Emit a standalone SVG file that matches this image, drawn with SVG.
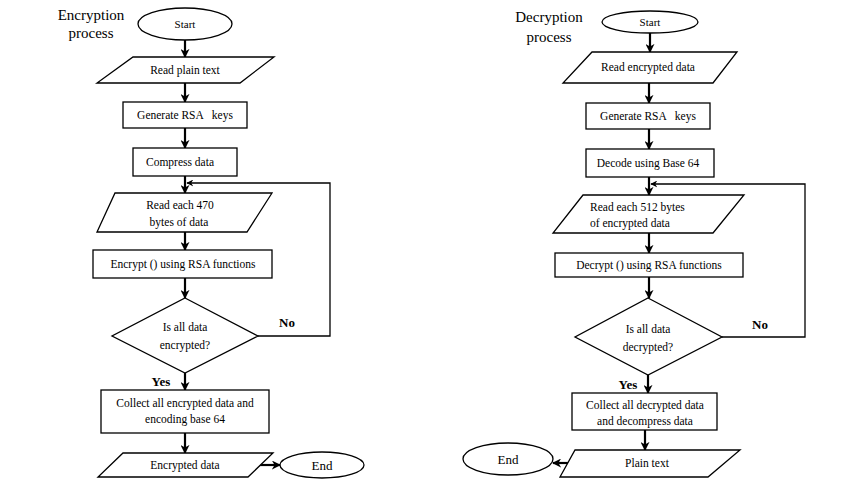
<svg xmlns="http://www.w3.org/2000/svg" width="850" height="485" viewBox="0 0 850 485">
<defs>
<style>
.s{fill:#fff;stroke:#000;stroke-width:1.3}
.t{font-family:"Liberation Serif","Times New Roman",serif;font-size:11.5px;fill:#000;text-anchor:middle;white-space:pre}
.ti{font-family:"Liberation Serif","Times New Roman",serif;font-size:15px;fill:#000;text-anchor:middle}
.b{font-family:"Liberation Serif","Times New Roman",serif;font-size:13px;font-weight:bold;fill:#000;text-anchor:middle}
.a{stroke:#000;stroke-width:2.2;fill:none;marker-end:url(#ah)}
.f{stroke:#000;stroke-width:1.3;fill:none;marker-end:url(#fh)}
</style>
<marker id="ah" viewBox="0 0 10 10" refX="9" refY="5" markerWidth="9" markerHeight="9" markerUnits="userSpaceOnUse" orient="auto">
<path d="M0,0 L10,5 L0,10 L3,5 z" fill="#000"/>
</marker>
<marker id="fh" viewBox="0 0 10 10" refX="9" refY="5" markerWidth="7" markerHeight="7" markerUnits="userSpaceOnUse" orient="auto">
<path d="M0,0 L10,5 L0,10 L3,5 z" fill="#000"/>
</marker>
</defs>
<rect width="850" height="485" fill="#fff"/>

<g id="titles">
<text class="ti" x="91" y="20">Encryption</text>
<text class="ti" x="91" y="38">process</text>
<text class="ti" x="549" y="22">Decryption</text>
<text class="ti" x="549" y="42">process</text>
</g>

<g id="connectors">
<line class="a" x1="185" y1="40" x2="185" y2="57"/>
<line class="a" x1="185" y1="83" x2="185" y2="102"/>
<line class="a" x1="185" y1="128" x2="185" y2="148"/>
<line class="a" x1="185" y1="176" x2="185" y2="193"/>
<line class="a" x1="185" y1="232" x2="185" y2="250"/>
<line class="a" x1="185" y1="278" x2="185" y2="298"/>
<line class="a" x1="185" y1="373" x2="185" y2="390"/>
<line class="a" x1="185" y1="433" x2="185" y2="453"/>
<line class="a" x1="258" y1="465" x2="280" y2="465"/>
<polyline class="f" points="258,336 330,336 330,183 187,183"/>

<line class="a" x1="650" y1="33" x2="650" y2="52"/>
<line class="a" x1="649" y1="83" x2="649" y2="103"/>
<line class="a" x1="649" y1="129" x2="649" y2="149"/>
<line class="a" x1="649" y1="177" x2="649" y2="195"/>
<line class="a" x1="649" y1="233" x2="649" y2="253"/>
<line class="a" x1="649" y1="277" x2="649" y2="298"/>
<line class="a" x1="648" y1="375" x2="648" y2="393"/>
<line class="a" x1="645" y1="430" x2="645" y2="450"/>
<line class="a" x1="573" y1="463" x2="553" y2="463"/>
<polyline class="f" points="722,337 805,337 805,184 651,184"/>
</g>

<g id="labels">
<text class="b" x="287" y="327">No</text>
<text class="b" x="161" y="386">Yes</text>
<text class="b" x="760" y="329">No</text>
<text class="b" x="628" y="389">Yes</text>
</g>

<g id="enc-start"><ellipse class="s" cx="185" cy="24" rx="47" ry="16"/><text class="t" x="185" y="28" style="font-size:11px">Start</text></g>
<g id="enc-read"><polygon class="s" points="133,57 274,57 240,83 97,83"/><text class="t" x="185" y="74">Read plain text</text></g>
<g id="enc-keys"><rect class="s" x="123" y="102" width="124" height="26"/><text class="t" x="185" y="119">Generate RSA   keys</text></g>
<g id="enc-compress"><rect class="s" x="133" y="148" width="104" height="28"/><text class="t" x="180" y="166">Compress data</text></g>
<g id="enc-read470"><polygon class="s" points="115,193 272,193 247,232 97,232"/><text class="t" x="180" y="209">Read each 470</text><text class="t" x="179" y="226">bytes of data</text></g>
<g id="enc-encrypt"><rect class="s" x="93" y="250" width="179" height="28"/><text class="t" x="183" y="268">Encrypt () using RSA functions</text></g>
<g id="enc-decision"><polygon class="s" points="185,298 258,336 185,373 112,336"/><text class="t" x="185" y="331">Is all data</text><text class="t" x="185" y="349">encrypted?</text></g>
<g id="enc-collect"><rect class="s" x="101" y="390" width="168" height="43"/><text class="t" x="185" y="407">Collect all encrypted data and</text><text class="t" x="185" y="423">encoding base 64</text></g>
<g id="enc-output"><polygon class="s" points="123,453 273,453 248,477 98,477"/><text class="t" x="185" y="469">Encrypted data</text></g>
<g id="enc-end"><ellipse class="s" cx="322" cy="465" rx="42" ry="13"/><text class="t" x="322" y="470" style="font-size:13px">End</text></g>

<g id="dec-start"><ellipse class="s" cx="650" cy="22" rx="48" ry="11"/><text class="t" x="650" y="26" style="font-size:11px">Start</text></g>
<g id="dec-read"><polygon class="s" points="592,52 737,52 713,83 563,83"/><text class="t" x="648" y="71">Read encrypted data</text></g>
<g id="dec-keys"><rect class="s" x="586" y="103" width="124" height="26"/><text class="t" x="648" y="120">Generate RSA   keys</text></g>
<g id="dec-decode"><rect class="s" x="586" y="149" width="128" height="28"/><text class="t" x="648" y="167">Decode using Base 64</text></g>
<g id="dec-read512"><polygon class="s" points="583,195 744,195 713,233 553,233"/><text class="t" x="590" y="211" style="text-anchor:start">Read each 512 bytes</text><text class="t" x="590" y="227" style="text-anchor:start">of encrypted data</text></g>
<g id="dec-decrypt"><rect class="s" x="555" y="253" width="188" height="24"/><text class="t" x="649" y="269">Decrypt () using RSA functions</text></g>
<g id="dec-decision"><polygon class="s" points="648,298 722,337 648,375 575,337"/><text class="t" x="648" y="333">Is all data</text><text class="t" x="648" y="351">decrypted?</text></g>
<g id="dec-collect"><rect class="s" x="572" y="393" width="145" height="37"/><text class="t" x="645" y="409">Collect all decrypted data</text><text class="t" x="645" y="425">and decompress data</text></g>
<g id="dec-output"><polygon class="s" points="575,450 740,450 708,477 560,477"/><text class="t" x="647" y="467">Plain text</text></g>
<g id="dec-end"><ellipse class="s" cx="508" cy="459" rx="45" ry="16"/><text class="t" x="508" y="464" style="font-size:13px">End</text></g>
</svg>
